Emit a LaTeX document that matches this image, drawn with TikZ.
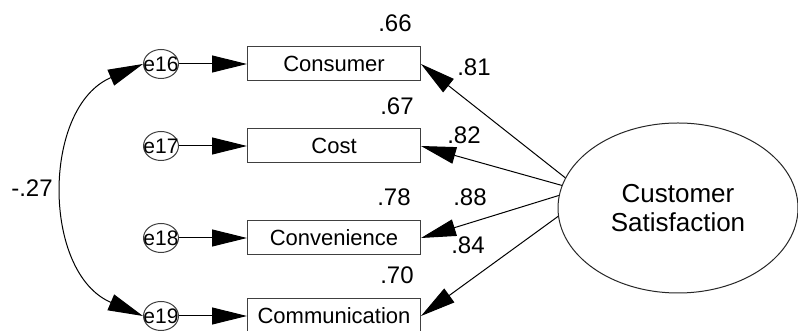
\documentclass[tikz,border=0pt]{standalone}
\usepackage{fontspec}
\setmainfont{Liberation Sans}
\usetikzlibrary{arrows.meta,shapes.geometric}

\begin{document}
\begin{tikzpicture}[x=1pt,y=1pt,line width=1pt,
      obs/.style={draw=black!75,rectangle,minimum width=173pt,minimum height=34pt,inner sep=0pt,font=\fontsize{22}{26}\selectfont},
      err/.style={draw=black!75,ellipse,minimum width=35pt,minimum height=29pt,inner sep=0pt},
      errtxt/.style={inner sep=0pt,font=\fontsize{21}{24}\selectfont},
      lat/.style={draw=black!85,ellipse,minimum width=240pt,minimum height=170pt,inner sep=0pt,align=center,font=\fontsize{26}{29}\selectfont},
      est/.style={font=\fontsize{24}{28}\selectfont},
      reg/.style={-{Triangle[length=35pt,width=17pt]}},
      cov/.style={{Triangle[length=35pt,width=17pt]}-{Triangle[length=35pt,width=17pt]}}]
    \path[use as bounding box,fill=white] (0,0) rectangle (798,331);
    % indicators
    \node[obs] (cons) at (334,267) {Consumer};
    \node[obs] (cost) at (334,185) {Cost};
    \node[obs] (conv) at (334,93) {Convenience};
    \node[obs] (comm) at (334,15) {Communication};
    % error terms
    \node[err,label={[errtxt]center:e16}] (e16) at (161,267) {};
    \node[err,label={[errtxt]center:e17}] (e17) at (161,185) {};
    \node[err,label={[errtxt]center:e18}] (e18) at (161,93) {};
    \node[err,label={[errtxt]center:e19}] (e19) at (161,15) {};
    \draw[reg] (e16) -- (cons);
    \draw[reg] (e17) -- (cost);
    \draw[reg] (e18) -- (conv);
    \draw[reg] (e19) -- (comm);
    \draw[cov] (e16.west) to[out=203,in=157,looseness=1.12] (e19.west);
    \node[est] (r) at (32,143) {-.27};
    % latent factor and loadings
    \node[lat] (sat) at (678,123) {Customer\\Satisfaction};
    \draw[reg] (sat.165) -- (cons.east);
    \draw[reg] (sat.169) -- (cost.east);
    \draw[reg] (sat.174) -- (conv.east);
    \draw[reg] (sat.184) -- (comm.east);
    \node[est] (l1) at (474,264) {.81};
    \node[est] (l2) at (464,196) {.82};
    \node[est] (l3) at (470,134) {.88};
    \node[est] (l4) at (468,86) {.84};
    % squared multiple correlations
    \node[est] (q1) at (395,308) {.66};
    \node[est] (q2) at (397,225) {.67};
    \node[est] (q3) at (394,134) {.78};
    \node[est] (q4) at (397,56) {.70};
\end{tikzpicture}
\end{document}
